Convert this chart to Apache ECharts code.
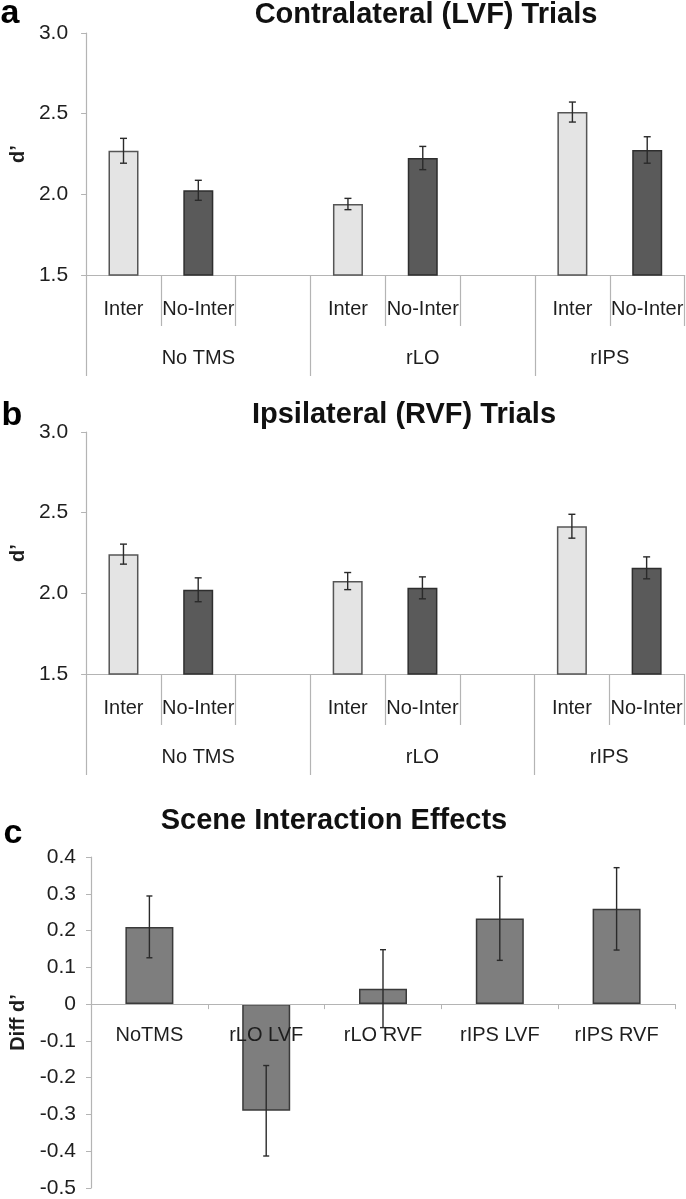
<!DOCTYPE html>
<html>
<head>
<meta charset="utf-8">
<script src="https://cdn.jsdelivr.net/npm/echarts@6/dist/echarts.min.js"></script>
<style>
html,body{margin:0;padding:0;background:#fff;}
#chart{width:686px;height:1199px;}
</style>
</head>
<body>
<div id="chart"></div>
<script>
// ---- data ----
const groups = ['No TMS', 'rLO', 'rIPS'];
const conditions = ['Inter', 'No-Inter'];

const contraInter = [2.27, 1.94, 2.51];
const contraInterErr = [0.077, 0.035, 0.062];
const contraNoInter = [2.025, 2.225, 2.275];
const contraNoInterErr = [0.062, 0.072, 0.082];

const ipsiInter = [2.243, 2.076, 2.416];
const ipsiInterErr = [0.062, 0.053, 0.074];
const ipsiNoInter = [2.022, 2.034, 2.158];
const ipsiNoInterErr = [0.074, 0.068, 0.068];

const diffCategories = ['NoTMS', 'rLO LVF', 'rLO RVF', 'rIPS LVF', 'rIPS RVF'];
const diffValues = [0.21, -0.29, 0.042, 0.233, 0.259];
const diffErr = [0.084, 0.123, 0.106, 0.114, 0.112];

const titles = ['Contralateral (LVF) Trials', 'Ipsilateral (RVF) Trials', 'Scene Interaction Effects'];
const panelLetters = ['a', 'b', 'c'];

// ---- build category structure ----
const FONT = '"Liberation Sans", Arial, sans-serif';
const innerCats = [];
const groupStart = [];
const groupSize = [];
groups.forEach((g, gi) => {
  groupStart.push(innerCats.length);
  conditions.forEach(c => innerCats.push(c));
  let size = conditions.length;
  if (gi < groups.length - 1) { innerCats.push(''); size += 1; }
  groupSize.push(size);
});
const halfCount = innerCats.length * 2 + 1;
const outerCats = new Array(halfCount).fill('');
const outerLabelIdx = [];
const longTickIdx = [];
groups.forEach((g, gi) => {
  const li = groupStart[gi] * 2 + groupSize[gi];
  outerCats[li] = g;
  outerLabelIdx.push(li);
  longTickIdx.push(groupStart[gi] * 2);
});
const shortTickIdx = [];
innerCats.forEach((c, i) => { if (groupStart.indexOf(i) < 0) shortTickIdx.push(i); });

function seriesData(values, condIdx) {
  const arr = innerCats.map(() => '-');
  values.forEach((v, gi) => { arr[groupStart[gi] + condIdx] = v; });
  return arr;
}
function errData(values, errs, condIdx) {
  return values.map((v, gi) => [groupStart[gi] + condIdx, v, errs[gi]]);
}

function errRender(capHalf) {
  return function (params, api) {
    const x = api.value(0), v = api.value(1), e = api.value(2);
    const top = api.coord([x, v + e]);
    const bot = api.coord([x, v - e]);
    const style = { stroke: '#2a2a2a', lineWidth: 1.4 };
    return {
      type: 'group',
      children: [
        { type: 'line', shape: { x1: top[0], y1: top[1], x2: bot[0], y2: bot[1] }, style: style },
        { type: 'line', shape: { x1: top[0] - capHalf, y1: top[1], x2: top[0] + capHalf, y2: top[1] }, style: style },
        { type: 'line', shape: { x1: bot[0] - capHalf, y1: bot[1], x2: bot[0] + capHalf, y2: bot[1] }, style: style }
      ]
    };
  };
}

const AXIS_GRAY = '#b4b4b4';
const TEXT = '#1e1e1e';

const grids = [
  { left: 81, top: 33, width: 604, height: 242 },
  { left: 81, top: 432, width: 603, height: 242 },
  { left: 80, top: 857, width: 595, height: 331 }
];
const diffMin = -0.5, diffMax = 0.4;

const xAxes = [];
const yAxes = [];
const series = [];

[0, 1].forEach(p => {
  xAxes.push({
    gridIndex: p, type: 'category', position: 'bottom', data: innerCats, boundaryGap: true,
    axisLine: { show: true, lineStyle: { color: AXIS_GRAY, width: 1.2 } },
    axisTick: { show: true, length: 51, lineStyle: { color: AXIS_GRAY, width: 1.2 },
      interval: function (idx) { return shortTickIdx.indexOf(idx) >= 0; } },
    axisLabel: { interval: 0, margin: 24, fontSize: 20, color: TEXT, fontFamily: FONT, hideOverlap: false }
  });
  xAxes.push({
    gridIndex: p, type: 'category', position: 'bottom', data: outerCats, boundaryGap: false,
    axisLine: { show: false },
    axisTick: { show: true, length: 101, lineStyle: { color: AXIS_GRAY, width: 1.2 },
      interval: function (idx) { return longTickIdx.indexOf(idx) >= 0; } },
    axisLabel: { interval: function (idx) { return outerLabelIdx.indexOf(idx) >= 0; },
      margin: 73, fontSize: 20, color: TEXT, fontFamily: FONT, hideOverlap: false }
  });
  yAxes.push({
    gridIndex: p, type: 'value', min: 1.5, max: 3.0, interval: 0.5,
    name: 'd\u2019', nameLocation: 'middle', nameGap: 56, nameRotate: 90,
    nameTextStyle: { fontSize: 20, fontWeight: 'bold', color: TEXT, fontFamily: FONT },
    axisLine: { show: true, lineStyle: { color: AXIS_GRAY, width: 1.2 } },
    axisTick: { show: true, length: 5, lineStyle: { color: AXIS_GRAY } },
    splitLine: { show: false },
    axisLabel: { formatter: v => v.toFixed(1), fontSize: 21, color: TEXT, fontFamily: FONT, margin: 18 }
  });
  const inter = p === 0 ? contraInter : ipsiInter;
  const interErr = p === 0 ? contraInterErr : ipsiInterErr;
  const noInter = p === 0 ? contraNoInter : ipsiNoInter;
  const noInterErr = p === 0 ? contraNoInterErr : ipsiNoInterErr;
  series.push({
    type: 'bar', name: conditions[0], xAxisIndex: p * 2, yAxisIndex: p,
    data: seriesData(inter, 0), barWidth: 30, barGap: '-100%',
    itemStyle: { color: '#e4e4e4', borderColor: '#555', borderWidth: 1.5 }
  });
  series.push({
    type: 'bar', name: conditions[1], xAxisIndex: p * 2, yAxisIndex: p,
    data: seriesData(noInter, 1), barWidth: 30, barGap: '-100%',
    itemStyle: { color: '#5a5a5a', borderColor: '#2e2e2e', borderWidth: 1.5 }
  });
  series.push({
    type: 'custom', xAxisIndex: p * 2, yAxisIndex: p, z: 5,
    renderItem: errRender(3.5), data: errData(inter, interErr, 0)
  });
  series.push({
    type: 'custom', xAxisIndex: p * 2, yAxisIndex: p, z: 5,
    renderItem: errRender(3.5), data: errData(noInter, noInterErr, 1)
  });
});

// panel c : x axis sits at value 0
const zeroOffset = -grids[2].height * (0 - diffMin) / (diffMax - diffMin);
xAxes.push({
  gridIndex: 2, type: 'category', position: 'bottom', offset: zeroOffset,
  data: diffCategories, boundaryGap: true, z: 4,
  axisLine: { show: true, onZero: false, lineStyle: { color: AXIS_GRAY, width: 1.2 } },
  axisTick: { show: true, length: 5, lineStyle: { color: AXIS_GRAY } },
  axisLabel: { interval: 0, margin: 21, fontSize: 20, color: TEXT, fontFamily: FONT, hideOverlap: false }
});
yAxes.push({
  gridIndex: 2, type: 'value', min: diffMin, max: diffMax, interval: 0.1,
  name: 'Diff d\u2019', nameLocation: 'middle', nameGap: 63, nameRotate: 90,
  nameTextStyle: { fontSize: 20, fontWeight: 'bold', color: TEXT, fontFamily: FONT },
  axisLine: { show: true, lineStyle: { color: AXIS_GRAY, width: 1.2 } },
  axisTick: { show: true, length: 5, lineStyle: { color: AXIS_GRAY } },
  splitLine: { show: false },
  axisLabel: { formatter: v => (Math.abs(v) < 1e-9 ? '0' : v.toFixed(1)), fontSize: 21, color: TEXT, fontFamily: FONT, margin: 15 }
});
series.push({
  type: 'bar', xAxisIndex: 4, yAxisIndex: 2, data: diffValues, barWidth: 48,
  itemStyle: { color: '#7e7e7e', borderColor: '#3a3a3a', borderWidth: 1.5 }
});
series.push({
  type: 'custom', xAxisIndex: 4, yAxisIndex: 2, z: 5,
  renderItem: errRender(3),
  data: diffValues.map((v, i) => [i, v, diffErr[i]])
});

// titles & panel letters
const titlePos = [[426, 15], [404, 415], [334, 821]];
const letterPos = [[10, 14], [12, 416], [13, 834]];
const graphics = [];
titles.forEach((t, i) => {
  graphics.push({ type: 'text', x: titlePos[i][0], y: titlePos[i][1],
    style: { text: t, font: 'bold 29px ' + FONT, fill: '#111',
      align: 'center', verticalAlign: 'middle', textAlign: 'center', textVerticalAlign: 'middle' } });
  graphics.push({ type: 'text', x: letterPos[i][0], y: letterPos[i][1],
    style: { text: panelLetters[i], font: 'bold 34px ' + FONT, fill: '#000',
      align: 'center', verticalAlign: 'middle', textAlign: 'center', textVerticalAlign: 'middle' } });
});

const chart = echarts.init(document.getElementById('chart'), null, { renderer: 'canvas' });
chart.setOption({
  animation: false,
  backgroundColor: '#ffffff',
  grid: grids,
  xAxis: xAxes,
  yAxis: yAxes,
  series: series,
  graphic: graphics
});
</script>
</body>
</html>
